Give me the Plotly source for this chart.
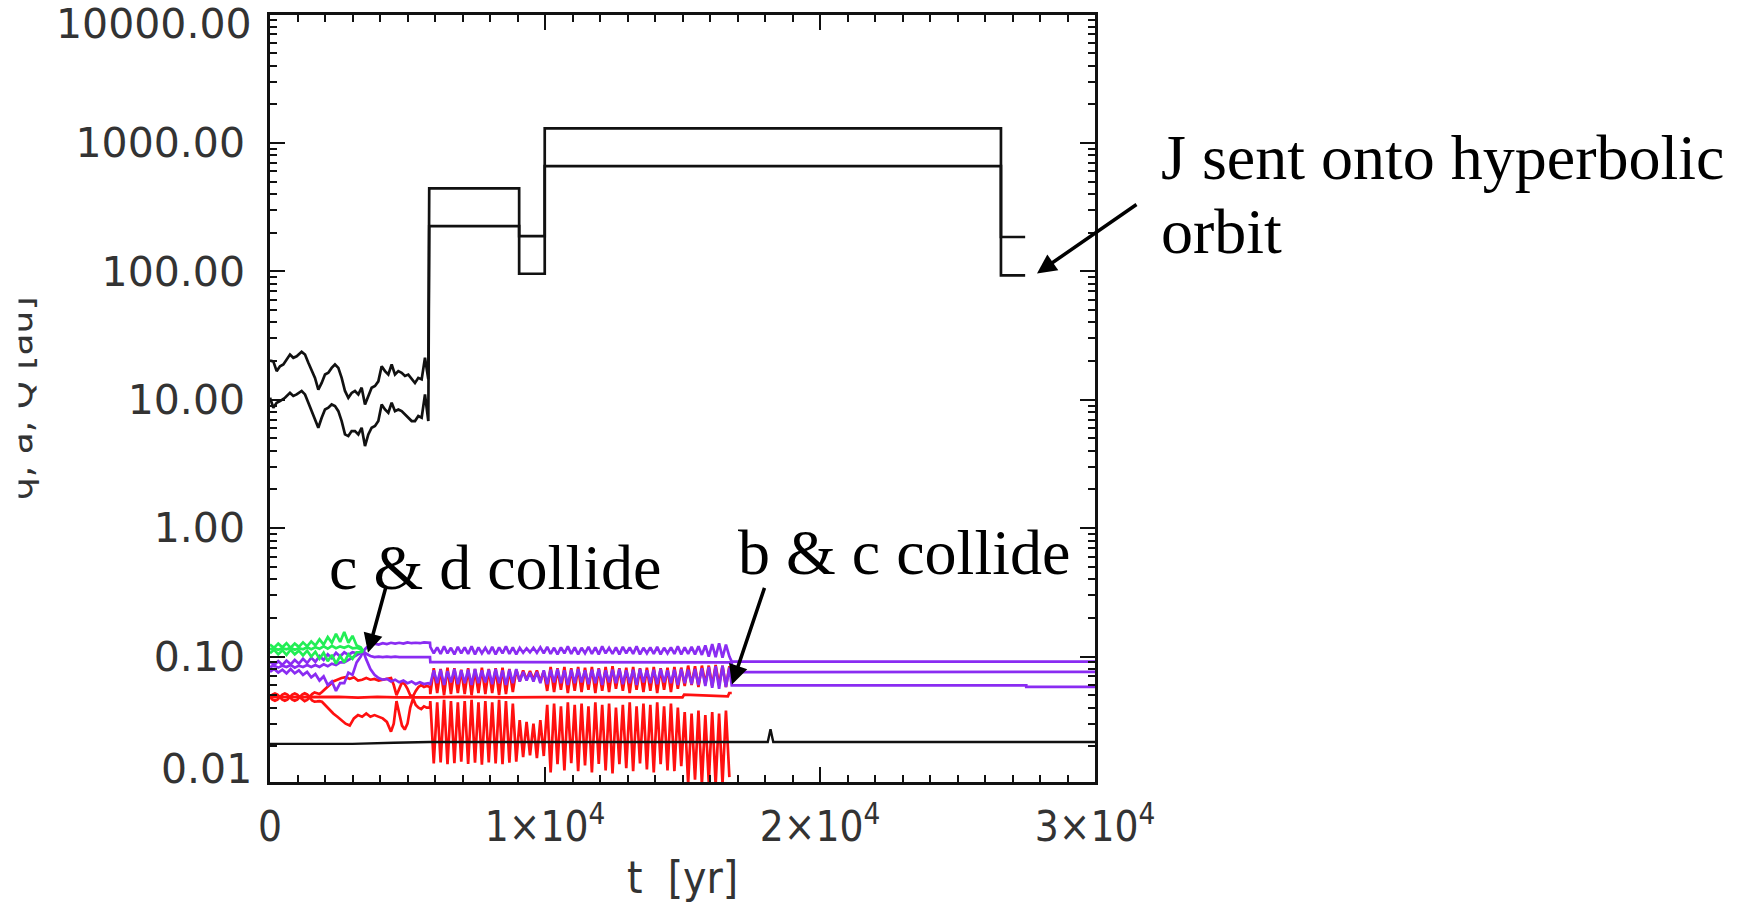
import math
import plotly.graph_objects as go

# ---------------- data ----------------
# Jupiter-like planet: upper (Q) and lower (a) curves
jQ_t = [0, 121, 242, 364, 485, 606, 727, 848, 970, 1151, 1273, 1394, 1515, 1636, 1757,
        1879, 2000, 2121, 2242, 2363, 2485, 2606, 2727, 2848, 2969, 3090, 3212, 3333, 3454, 3575,
        3696, 3818, 3939, 4060, 4181, 4302, 4424, 4545, 4666, 4787, 4908, 5030, 5151, 5272, 5393,
        5515, 5636, 5696, 5757, 5790, 9060, 9060, 9990, 9990, 26580, 26580, 27460]
jQ = [20.2, 19.9, 16.7, 18.2, 18.8, 20.6, 22.5, 21.2, 21.8, 23.6, 22.5, 19.4, 16.7, 14.8, 12.0,
      13.5, 15.7, 16.2, 17.7, 18.8, 17.7, 14.8, 11.7, 10.35, 11.3, 11.7, 11.0, 12.4, 9.19, 10.7,
      12.4, 12.8, 13.9, 18.2, 16.7, 15.7, 18.8, 15.7, 16.7, 16.2, 15.3, 15.7, 14.4, 13.5, 14.8,
      14.4, 21.2, 16.7, 14.4, 443, 443, 188, 188, 1297, 1297, 185, 185]
ja_t = [0, 121, 242, 364, 545, 727, 848, 970, 1151, 1273, 1394, 1515, 1636, 1757, 1879,
        2000, 2121, 2242, 2363, 2485, 2606, 2727, 2848, 2969, 3090, 3212, 3333, 3454, 3575, 3696,
        3818, 3939, 4060, 4181, 4302, 4424, 4545, 4666, 4787, 4908, 5030, 5151, 5272, 5393, 5515,
        5636, 5696, 5757, 5790, 9060, 9060, 9990, 9990, 26580, 26580, 27460]
ja = [10.35, 8.66, 9.47, 9.75, 10.35, 11.3, 10.7, 11.0, 11.7, 11.0, 9.47, 8.15, 6.82, 6.05, 7.24,
      8.40, 8.66, 9.19, 8.92, 8.15, 6.82, 5.37, 5.21, 5.70, 5.70, 5.37, 6.05, 4.36, 5.37, 6.05,
      6.24, 6.82, 9.19, 8.40, 7.91, 9.47, 8.15, 8.40, 8.15, 7.69, 7.24, 6.82, 6.82, 7.46, 7.24,
      11.0, 8.66, 6.82, 225, 225, 95.7, 95.7, 659, 659, 93, 93]

# innermost planet (black, ~0.02 au)
inner_t = [0, 1500, 3000, 4500, 5800, 9000, 14000, 18100, 18200, 18300, 24000, 30000]
inner_v = [0.0209, 0.0208, 0.0209, 0.0213, 0.0216, 0.0216, 0.0216, 0.0216, 0.0272, 0.0216, 0.0216, 0.0216]

# early phase time grid (green planet and purple planet before c & d collide)
t_early = [0, 150, 300, 450, 600, 750, 900, 1050, 1200, 1350, 1500, 1650,
           1800, 1950, 2100, 2250, 2400, 2550, 2700, 2850, 3000, 3150, 3300, 3390]
g_Q = [0.124, 0.117, 0.126, 0.118, 0.127, 0.117, 0.126, 0.119, 0.129, 0.120, 0.131, 0.122,
       0.136, 0.124, 0.142, 0.128, 0.150, 0.130, 0.155, 0.128, 0.145, 0.122, 0.118, 0.110]
g_a = [0.114, 0.116, 0.113, 0.116, 0.114, 0.117, 0.113, 0.116, 0.114, 0.118, 0.114, 0.118,
       0.115, 0.120, 0.115, 0.121, 0.116, 0.120, 0.117, 0.121, 0.116, 0.117, 0.114, 0.110]
g_q = [0.106, 0.113, 0.104, 0.112, 0.103, 0.113, 0.104, 0.111, 0.102, 0.111, 0.100, 0.109,
       0.096, 0.107, 0.092, 0.103, 0.088, 0.101, 0.090, 0.104, 0.096, 0.108, 0.108, 0.110]
p1_Q = [0.091, 0.086, 0.092, 0.086, 0.093, 0.087, 0.094, 0.088, 0.096, 0.089, 0.098, 0.091,
        0.101, 0.094, 0.104, 0.097, 0.107, 0.100, 0.108, 0.103, 0.108, 0.106, 0.109, 0.110]
p1_a = [0.083, 0.085, 0.082, 0.085, 0.083, 0.086, 0.082, 0.085, 0.083, 0.086, 0.083, 0.086,
        0.083, 0.087, 0.084, 0.088, 0.086, 0.090, 0.090, 0.094, 0.097, 0.102, 0.106, 0.110]
p1_q = [0.076, 0.080, 0.075, 0.079, 0.074, 0.080, 0.074, 0.078, 0.072, 0.076, 0.069, 0.073,
        0.065, 0.070, 0.060, 0.064, 0.054, 0.062, 0.062, 0.075, 0.072, 0.090, 0.100, 0.110]

# purple after c & d collide, before the big J kick
p2_t = [3500, 3650, 3800, 3950, 4100, 4250, 4400, 4550, 4700, 4850, 5000, 5150, 5300, 5450, 5600, 5750, 5818]
p2_Q = [0.117, 0.123, 0.126, 0.124, 0.127, 0.125, 0.128, 0.126, 0.128, 0.126, 0.129, 0.127, 0.128, 0.127, 0.129, 0.128, 0.128]
p2_a = [0.105, 0.101, 0.099, 0.100, 0.099, 0.100, 0.099, 0.100, 0.099, 0.099, 0.100, 0.099, 0.099, 0.100, 0.099, 0.099, 0.099]
p2_q = [0.095, 0.080, 0.072, 0.068, 0.066, 0.067, 0.064, 0.066, 0.063, 0.065, 0.062, 0.064, 0.061, 0.063, 0.061, 0.062, 0.061]

# red planet, early phase
r1_t = [0, 90, 180, 270, 360, 450, 540, 630, 720, 810, 900, 990, 1080, 1170, 1260, 1350, 1440, 1530, 1620, 1710, 1800]
r1_Q = [0.0483, 0.0505, 0.0516, 0.0505, 0.0483, 0.0505, 0.0516, 0.0505, 0.0483, 0.0505, 0.0516,
        0.0505, 0.0483, 0.0505, 0.0518, 0.0507, 0.0485, 0.0510, 0.0525, 0.0520, 0.0510]
r1_q = [0.0483, 0.0462, 0.0452, 0.0462, 0.0483, 0.0462, 0.0452, 0.0462, 0.0483, 0.0462, 0.0452,
        0.0462, 0.0483, 0.0462, 0.0450, 0.0460, 0.0480, 0.0455, 0.0445, 0.0447, 0.0450]
r2_t = [1890, 2000, 2150, 2300, 2450, 2600, 2750, 2900, 3050, 3200, 3350, 3500, 3650, 3800, 3950, 4100,
        4250, 4400, 4500, 4600, 4700, 4800, 4900, 5000, 5100, 5200, 5300, 5400, 5500, 5600, 5700, 5818]
r2_Q = [0.053, 0.056, 0.060, 0.064, 0.066, 0.068, 0.069, 0.067, 0.069, 0.065, 0.066, 0.068, 0.066, 0.067, 0.065, 0.066,
        0.067, 0.068, 0.060, 0.050, 0.056, 0.063, 0.061, 0.056, 0.050, 0.049, 0.054, 0.058, 0.060, 0.058, 0.059, 0.058]
r2_q = [0.0445, 0.042, 0.039, 0.036, 0.034, 0.032, 0.030, 0.029, 0.033, 0.035, 0.034, 0.036, 0.034, 0.035, 0.034, 0.033,
        0.031, 0.026, 0.030, 0.045, 0.036, 0.029, 0.027, 0.030, 0.040, 0.047, 0.042, 0.040, 0.039, 0.041, 0.040, 0.040]
ra_t = [0, 1800, 2500, 3200, 3900, 4600, 5300, 5818, 7000, 8500, 10000, 11500, 13000, 14500,
        15000, 15060, 16000, 16650, 16700, 16790]
ra = [0.0483, 0.0483, 0.0485, 0.0478, 0.0485, 0.0480, 0.0478, 0.0480, 0.0485, 0.0480, 0.0483, 0.0482, 0.0485, 0.0480,
      0.0480, 0.0505, 0.0495, 0.0490, 0.0520, 0.0520]

# resonant oscillation phase (two samples per cycle)
t_up = [5830, 6080, 6330, 6580, 6830, 7080, 7330, 7580, 7830, 8080, 8330,
        8580, 8830, 9080, 9330, 9580, 9830, 10080, 10330, 10580, 10830, 11080,
        11330, 11580, 11830, 12080, 12330, 12580, 12830, 13080, 13330, 13580, 13830,
        14080, 14330, 14580, 14830, 15080, 15330, 15580, 15830, 16080, 16330, 16580]
t_dn = [5955, 6205, 6455, 6705, 6955, 7205, 7455, 7705, 7955, 8205, 8455,
        8705, 8955, 9205, 9455, 9705, 9955, 10205, 10455, 10705, 10955, 11205,
        11455, 11705, 11955, 12205, 12455, 12705, 12955, 13205, 13455, 13705, 13955,
        14205, 14455, 14705, 14955, 15205, 15455, 15705, 15955, 16205, 16455, 16705]
pQ_hi = [0.119, 0.118, 0.120, 0.117, 0.119, 0.118, 0.120, 0.118, 0.117, 0.119, 0.118,
         0.120, 0.118, 0.117, 0.116, 0.117, 0.118, 0.119, 0.117, 0.118, 0.120, 0.118,
         0.117, 0.119, 0.118, 0.120, 0.117, 0.118, 0.119, 0.118, 0.120, 0.117, 0.118,
         0.119, 0.117, 0.118, 0.120, 0.118, 0.119, 0.120, 0.122, 0.125, 0.127, 0.124]
pQ_lo = [0.106, 0.105, 0.106, 0.104, 0.106, 0.105, 0.104, 0.106, 0.105, 0.104, 0.106,
         0.105, 0.104, 0.107, 0.108, 0.107, 0.106, 0.105, 0.104, 0.106, 0.105, 0.104,
         0.106, 0.105, 0.104, 0.106, 0.105, 0.104, 0.106, 0.105, 0.104, 0.106, 0.105,
         0.104, 0.106, 0.105, 0.104, 0.105, 0.104, 0.103, 0.100, 0.099, 0.098, 0.100]
pq_lo = [0.061, 0.062, 0.060, 0.063, 0.061, 0.062, 0.060, 0.062, 0.063, 0.061, 0.062,
         0.060, 0.062, 0.064, 0.065, 0.064, 0.062, 0.061, 0.063, 0.062, 0.060, 0.062,
         0.063, 0.061, 0.062, 0.060, 0.063, 0.062, 0.061, 0.062, 0.060, 0.063, 0.062,
         0.061, 0.063, 0.062, 0.060, 0.062, 0.061, 0.060, 0.059, 0.057, 0.056, 0.058]
pq_hi = [0.078, 0.079, 0.077, 0.080, 0.078, 0.079, 0.080, 0.078, 0.079, 0.080, 0.078,
         0.079, 0.080, 0.076, 0.075, 0.076, 0.078, 0.079, 0.080, 0.078, 0.079, 0.080,
         0.078, 0.079, 0.080, 0.078, 0.079, 0.080, 0.078, 0.079, 0.080, 0.078, 0.079,
         0.080, 0.078, 0.079, 0.080, 0.079, 0.080, 0.081, 0.083, 0.084, 0.085, 0.082]
pa_t = [5830, 8000, 10000, 12000, 14000, 16000, 16790]
pa = [0.0905, 0.0902, 0.0905, 0.0902, 0.0905, 0.0902, 0.0902]
rq_top = [0.045, 0.044, 0.046, 0.045, 0.044, 0.045, 0.046, 0.044, 0.045, 0.044, 0.046,
          0.045, 0.043, 0.032, 0.031, 0.030, 0.032, 0.042, 0.043, 0.041, 0.044, 0.042,
          0.043, 0.041, 0.044, 0.042, 0.043, 0.040, 0.042, 0.044, 0.041, 0.043, 0.042,
          0.044, 0.041, 0.043, 0.040, 0.037, 0.036, 0.038, 0.035, 0.037, 0.036, 0.038]
rq_bot = [0.0147, 0.0150, 0.0145, 0.0148, 0.0152, 0.0146, 0.0149, 0.0144, 0.0150, 0.0147, 0.0145,
          0.0149, 0.0152, 0.0165, 0.0170, 0.0162, 0.0168, 0.0125, 0.0145, 0.0130, 0.0148, 0.0128,
          0.0142, 0.0125, 0.0146, 0.0130, 0.0123, 0.0145, 0.0135, 0.0128, 0.0147, 0.0132, 0.0125,
          0.0145, 0.0130, 0.0128, 0.0140, 0.0102, 0.0110, 0.0101, 0.0105, 0.0100, 0.0102, 0.0115]
rQ_lo = [0.051, 0.052, 0.050, 0.051, 0.052, 0.051, 0.050, 0.052, 0.051, 0.052, 0.050,
         0.051, 0.053, 0.064, 0.066, 0.066, 0.064, 0.054, 0.053, 0.055, 0.052, 0.054,
         0.053, 0.055, 0.052, 0.054, 0.053, 0.056, 0.054, 0.052, 0.055, 0.053, 0.054,
         0.052, 0.055, 0.053, 0.056, 0.059, 0.060, 0.058, 0.061, 0.059, 0.060, 0.058]
rQ_hi = [0.081, 0.080, 0.082, 0.081, 0.079, 0.081, 0.080, 0.082, 0.080, 0.081, 0.082,
         0.080, 0.079, 0.078, 0.077, 0.078, 0.077, 0.083, 0.081, 0.083, 0.081, 0.083,
         0.082, 0.083, 0.081, 0.083, 0.084, 0.081, 0.082, 0.083, 0.081, 0.082, 0.083,
         0.081, 0.082, 0.083, 0.082, 0.085, 0.084, 0.085, 0.085, 0.086, 0.085, 0.084]

# merged planet after b & c collide
pf_t = [16790, 26600, 26600, 30000]
pf_Q = [0.0914, 0.0914, 0.0914, 0.0914]
pf_a = [0.0755, 0.0755, 0.0760, 0.0760]
pfq_t = [16790, 27500, 27500, 30000]
pf_q = [0.0596, 0.0596, 0.0580, 0.0580]

# axes
x_tickvals = [0, 10000, 20000, 30000]
x_ticktext = ["0", "1×10<sup>4</sup>", "2×10<sup>4</sup>", "3×10<sup>4</sup>"]
y_tickvals = [0.01, 0.1, 1, 10, 100, 1000, 10000]
y_ticktext = ["0.01", "0.10", "1.00", "10.00", "100.00", "1000.00", "10000.00"]

# annotations: (text, tip t, tip value, tail dx, tail dy)
arrows = [("c & d collide", 3563, 0.107, 18, -66),
          ("b & c collide", 16800, 0.0607, 33, -98),
          ("J sent onto hyperbolic orbit", 27890, 96.3, 101, -70)]

# ---------------- figure ----------------
PL_L, PL_R, PL_T, PL_B = 270, 1095, 13, 782
def px(x):
    return (x - PL_L) / (PL_R - PL_L)
def py(y):
    return (PL_B - y) / (PL_B - PL_T)

def interleave(ta, va, tb, vb):
    ts, vs = [], []
    for a1, a2, b1, b2 in zip(ta, va, tb, vb):
        ts += [a1, b1]
        vs += [a2, b2]
    return ts, vs

PURPLE = "#8a2cf2"
GREEN = "#22ee55"
RED = "#ff1010"
BLACK = "#111111"

fig = go.Figure()

def line(t, v, color, w=2.7):
    fig.add_trace(go.Scatter(x=t, y=v, mode="lines", line=dict(color=color, width=w),
                             hoverinfo="skip", showlegend=False))

# J
line(jQ_t, jQ, BLACK, 2.7)
line(ja_t, ja, BLACK, 2.7)

# red planet
osc_t, osc_rq = interleave(t_up, rq_top, t_dn, rq_bot)
_, osc_rQ = interleave(t_up, rQ_lo, t_dn, rQ_hi)
line(r1_t + r2_t + osc_t, r1_Q + r2_Q + osc_rQ, RED)
line(r1_t + r2_t + osc_t, r1_q + r2_q + osc_rq, RED)
line(ra_t, ra, RED)

# purple planet
_, osc_pQ = interleave(t_up, pQ_hi, t_dn, pQ_lo)
_, osc_pq = interleave(t_up, pq_lo, t_dn, pq_hi)
line(t_early + p2_t + osc_t + pf_t, p1_Q + p2_Q + osc_pQ + pf_Q, PURPLE)
line(t_early + p2_t + pa_t + pf_t, p1_a + p2_a + pa + pf_a, PURPLE)
line(t_early + p2_t + osc_t + pfq_t, p1_q + p2_q + osc_pq + pf_q, PURPLE)

# green planet
line(t_early, g_Q, GREEN)
line(t_early, g_a, GREEN)
line(t_early, g_q, GREEN)

# innermost planet
line(inner_t, inner_v, BLACK, 2.4)

TICKFONT = "DejaVu Sans"
XFONT = "Liberation Sans Narrow, DejaVu Sans Condensed, Arial Narrow, sans-serif"
SERIF = "Liberation Serif, Times New Roman, serif"
LABEL_GREY = "#333333"

fig.update_layout(
    width=1743, height=906,
    margin=dict(l=PL_L, r=1743 - PL_R, t=PL_T, b=906 - PL_B, pad=0),
    paper_bgcolor="white", plot_bgcolor="white",
    showlegend=False,
    xaxis=dict(
        range=[0, 30000], showgrid=False, zeroline=False,
        showline=True, linecolor=BLACK, linewidth=2.5, mirror="allticks",
        ticks="inside", ticklen=15, tickwidth=2, tickcolor=BLACK,
        tickmode="array", tickvals=x_tickvals, ticktext=x_ticktext,
        tickfont=dict(family=XFONT, size=42, color=LABEL_GREY),
        ticklabelstandoff=6,
        minor=dict(ticks="inside", ticklen=7, tickwidth=2, tickcolor=BLACK,
                   tickmode="linear", tick0=0, dtick=1000, showgrid=False),
    ),
    yaxis=dict(
        type="log", range=[-1.977, 3.996], showgrid=False, zeroline=False,
        showline=True, linecolor=BLACK, linewidth=2.5, mirror="allticks",
        ticks="inside", ticklen=15, tickwidth=2, tickcolor=BLACK,
        tickmode="array", tickvals=y_tickvals[1:-1], ticktext=y_ticktext[1:-1],
        tickfont=dict(family=TICKFONT, size=41, color=LABEL_GREY),
        ticklabelstandoff=14,
        minor=dict(ticks="inside", ticklen=7, tickwidth=2, tickcolor=BLACK,
                   dtick="D1", showgrid=False),
    ),
)

ann = []
# end labels of the y axis (drawn inside the axis range like the original)
ann.append(dict(xref="paper", yref="paper", x=px(254), y=py(22), xanchor="right", yanchor="middle",
                text=y_ticktext[-1], showarrow=False,
                font=dict(family=TICKFONT, size=41, color=LABEL_GREY)))
ann.append(dict(xref="paper", yref="paper", x=px(254), y=py(769), xanchor="right", yanchor="middle",
                text=y_ticktext[0], showarrow=False,
                font=dict(family=TICKFONT, size=41, color=LABEL_GREY)))
# axis titles
ann.append(dict(xref="paper", yref="paper", x=0.5, y=py(878), xanchor="center", yanchor="middle",
                text="t  [yr]", showarrow=False,
                font=dict(family=XFONT, size=44, color=LABEL_GREY)))
# y title: only its right strip is visible in the original (cropped figure)
ann.append(dict(xref="paper", yref="paper", x=px(20), y=py(398), xanchor="center", yanchor="middle",
                text="q, a, Q [au]", textangle=-90, showarrow=False,
                font=dict(family=TICKFONT, size=36, color=LABEL_GREY)))
ann.append(dict(xref="paper", yref="paper", x=px(0), y=py(398), xanchor="left", yanchor="middle",
                text=" ", showarrow=False, width=17, height=300, bgcolor="white", borderpad=0,
                font=dict(size=10)))
# arrows
for text, tt, vv, dx, dy in arrows:
    ann.append(dict(xref="x", yref="y", x=tt, y=math.log10(vv), ax=dx, ay=dy,
                    text="", showarrow=True, arrowhead=2, arrowsize=1.1, arrowwidth=3.5,
                    arrowcolor="black", standoff=0))
# event labels
ann.append(dict(xref="paper", yref="paper", x=px(495), y=py(567), xanchor="center", yanchor="middle",
                text=arrows[0][0], showarrow=False, font=dict(family=SERIF, size=64, color="black")))
ann.append(dict(xref="paper", yref="paper", x=px(904), y=py(552), xanchor="center", yanchor="middle",
                text=arrows[1][0], showarrow=False, font=dict(family=SERIF, size=64, color="black")))
words = arrows[2][0].split(" ")
ann.append(dict(xref="paper", yref="paper", x=px(1159), y=py(156), xanchor="left", yanchor="middle",
                text=" ".join(words[:4]), showarrow=False, font=dict(family=SERIF, size=64, color="black")))
ann.append(dict(xref="paper", yref="paper", x=px(1159), y=py(230), xanchor="left", yanchor="middle",
                text=words[4], showarrow=False, font=dict(family=SERIF, size=64, color="black")))
fig.update_layout(annotations=ann)

fig.write_html("out.html")
